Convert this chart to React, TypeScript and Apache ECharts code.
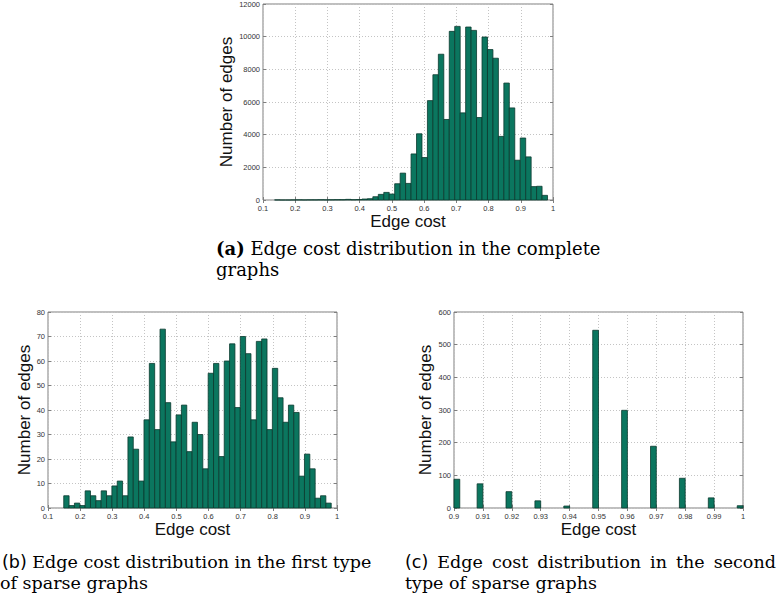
import React, { useEffect, useRef } from "react";
import * as echarts from "echarts";

// (a) complete graphs: 50 equal-width histogram bins spanning [binLoA, binHiA]
const binLoA = 0.136;
const binHiA = 0.983;
const countsA = [
  5, 0, 0, 5, 10, 5, 10, 10, 15, 10, 15, 20, 20, 40, 20, 30, 60, 80, 200, 345,
  465, 365, 995, 1645, 1015, 2820, 4055, 2600, 6085, 7670, 8925, 4930, 10325, 10630, 5335,
  10590, 10385, 5050, 9980, 9210, 8680, 3895, 7160, 5640, 2435, 3795, 2640, 820, 840, 285,
];

// (b) first type of sparse graphs: 50 bins spanning [binLoB, binHiB]
const binLoB = 0.149;
const binHiB = 0.982;
const countsB = [
  5, 1, 2, 1, 7, 5, 3, 7, 5, 9, 11, 5, 29, 24, 11, 36, 59, 32, 73, 43,
  27, 38, 42, 23, 35, 30, 16, 55, 59, 21, 60, 67, 41, 70, 63, 36, 68, 69, 32, 57,
  45, 35, 42, 39, 13, 22, 16, 4, 5, 2,
];

// (c) second type of sparse graphs: only occupied bins (left edge, width binWidthC)
const binLeftC = [0.9, 0.908, 0.918, 0.928, 0.938, 0.948, 0.958, 0.968, 0.978, 0.988, 0.998];
const binWidthC = 0.002;
const countsC = [88, 74, 50, 22, 6, 544, 299, 189, 91, 31, 7];

const xTicksAB = { min: 0.1, max: 1, interval: 0.1 };
const xTicksC = { min: 0.9, max: 1, interval: 0.01 };
const yTicksA = { min: 0, max: 12000, interval: 2000 };
const yTicksB = { min: 0, max: 80, interval: 10 };
const yTicksC = { min: 0, max: 600, interval: 100 };

const BAR_FILL = "#0b765f";
const BAR_EDGE = "#0b3a2e";
const FRAME = "#7f7f7f";
const TICK_COLOR = "#333";
const SANS = "'Liberation Sans', Arial, sans-serif";
const SERIF = "'DejaVu Serif', serif";

function equalBins(lo: number, hi: number, counts: number[]) {
  const w = (hi - lo) / counts.length;
  return counts.map((c, i) => [lo + i * w, lo + (i + 1) * w, c]);
}

function sparseBins(lefts: number[], w: number, counts: number[]) {
  return lefts.map((l, i) => [l, l + w, counts[i]]);
}

const fmtX = (v: number) => String(+v.toFixed(2));
const fmtY = (v: number) => String(Math.round(v));

function makeAxes(gridIndex: number, xt: any, yt: any, yNameGap: number) {
  const tick = { inside: true, length: 3, lineStyle: { color: FRAME, width: 1 } };
  const split = { show: true, lineStyle: { type: [1, 2], color: "#c4c4c4", width: 1 } };
  const nameStyle = { fontFamily: SANS, fontSize: 17, color: "#111" };
  const xAxes = [
    {
      type: "value", gridIndex, ...xt, position: "bottom",
      axisLine: { show: false }, axisTick: tick, splitLine: split,
      axisLabel: { fontFamily: SANS, fontSize: 7.5, color: TICK_COLOR, margin: 4, formatter: fmtX, showMinLabel: true, showMaxLabel: true },
      name: "Edge cost", nameLocation: "middle", nameGap: 10, nameTextStyle: { ...nameStyle, verticalAlign: "top" },
    },
    {
      type: "value", gridIndex, ...xt, position: "top",
      axisLine: { show: false }, axisTick: tick, splitLine: { show: false }, axisLabel: { show: false },
    },
  ];
  const yAxes = [
    {
      type: "value", gridIndex, ...yt, position: "left",
      axisLine: { show: false }, axisTick: tick, splitLine: split,
      axisLabel: { fontFamily: SANS, fontSize: 7.5, color: TICK_COLOR, margin: 3, formatter: fmtY, showMinLabel: true, showMaxLabel: true },
      name: "Number of edges", nameLocation: "middle", nameGap: yNameGap, nameTextStyle: nameStyle,
    },
    {
      type: "value", gridIndex, ...yt, position: "right",
      axisLine: { show: false }, axisTick: tick, splitLine: { show: false }, axisLabel: { show: false },
    },
  ];
  return { xAxes, yAxes };
}

function histSeries(idx: number, data: number[][]) {
  return {
    type: "custom",
    xAxisIndex: idx * 2,
    yAxisIndex: idx * 2,
    data,
    encode: { x: [0, 1], y: 2 },
    renderItem: (_params: any, api: any) => {
      const p0 = api.coord([api.value(0), api.value(2)]);
      const p1 = api.coord([api.value(1), 0]);
      return {
        type: "rect",
        shape: { x: p0[0], y: p0[1], width: p1[0] - p0[0], height: p1[1] - p0[1] },
        style: { fill: BAR_FILL, stroke: BAR_EDGE, lineWidth: 0.8 },
      };
    },
  };
}

export default function App() {
  const ref = useRef<HTMLDivElement>(null);
  useEffect(() => {
    document.body.style.margin = "0";
    if (!ref.current) return;
    const chart = echarts.init(ref.current, undefined, { renderer: "svg" });
    const a = makeAxes(0, xTicksAB, yTicksA, 21);
    const b = makeAxes(1, xTicksAB, yTicksB, 14);
    const c = makeAxes(2, xTicksC, yTicksC, 20);
    const gridBase = { show: true, borderColor: FRAME, borderWidth: 1, backgroundColor: "#fff" };
    const capStyle = (size: number) => ({
      fontFamily: SERIF, fontSize: size, fill: "#000", verticalAlign: "middle", align: "left",
    });
    const gap = " \u2009";
    chart.setOption({
      animation: false,
      backgroundColor: "#fff",
      grid: [
        { ...gridBase, left: 263, top: 3, width: 290, height: 197 },
        { ...gridBase, left: 48, top: 312, width: 289, height: 196 },
        { ...gridBase, left: 454, top: 312, width: 289, height: 196 },
      ],
      xAxis: [...a.xAxes, ...b.xAxes, ...c.xAxes],
      yAxis: [...a.yAxes, ...b.yAxes, ...c.yAxes],
      series: [
        histSeries(0, equalBins(binLoA, binHiA, countsA)),
        histSeries(1, equalBins(binLoB, binHiB, countsB)),
        histSeries(2, sparseBins(binLeftC, binWidthC, countsC)),
      ],
      graphic: [
        {
          type: "text", x: 216, y: 248,
          style: {
            ...capStyle(18),
            text: "{b|(a)} Edge cost distribution in the complete",
            rich: { b: { fontFamily: SERIF, fontSize: 18, fontWeight: "bold", fill: "#000" } },
          },
        },
        { type: "text", x: 216, y: 269, style: { ...capStyle(18), text: "graphs" } },
        {
          type: "text", x: 2, y: 562,
          style: {
            ...capStyle(17.5),
            text: "{s|(b)} Edge cost distribution in the first type",
            rich: { s: { fontFamily: "'DejaVu Sans', sans-serif", fontSize: 17.5, fill: "#000" } },
          },
        },
        { type: "text", x: 0, y: 583, style: { ...capStyle(17.5), text: "of sparse graphs" } },
        {
          type: "text", x: 405, y: 562,
          style: {
            ...capStyle(17.5),
            text: ["{s|(c)}", "Edge", "cost", "distribution", "in", "the", "second"].join(gap),
            rich: { s: { fontFamily: "'DejaVu Sans', sans-serif", fontSize: 17.5, fill: "#000" } },
          },
        },
        { type: "text", x: 405, y: 583, style: { ...capStyle(17.5), text: "type of sparse graphs" } },
      ],
    });
    return () => chart.dispose();
  }, []);
  return <div ref={ref} style={{ width: 778, height: 596 }} />;
}
